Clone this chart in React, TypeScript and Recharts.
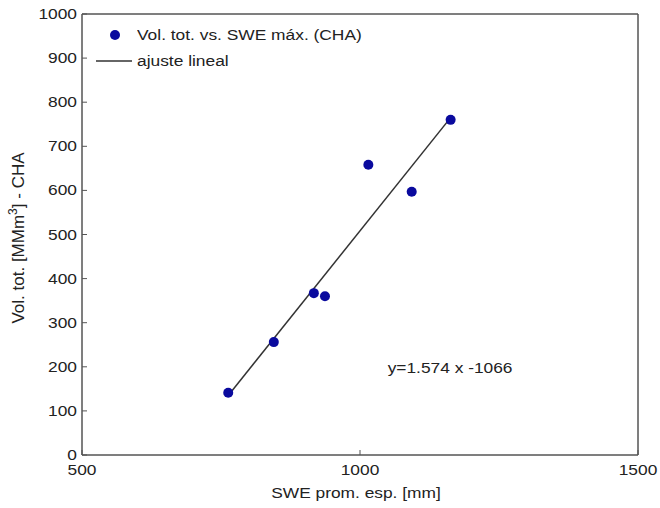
import React from "react";
import {
  ReferenceArea,
  ReferenceDot,
  Scatter,
  ScatterChart,
  XAxis,
  YAxis,
} from "recharts";

// SWE prom. esp. [mm] vs Vol. tot. [MMm3] - CHA
const sweProm = [763, 845, 917, 937, 1015, 1093, 1163];
const volTot = [141, 256, 367, 360, 658, 597, 760];

// linear fit end points
const fitX = [763, 1163];
const fitY = [135, 765];

const xTicks = [500, 1000, 1500];
const yTicks = [0, 100, 200, 300, 400, 500, 600, 700, 800, 900, 1000];

const FONT = "'Liberation Sans', Arial, Helvetica, sans-serif";
const AXIS = "#555";
const DOT = "#0a0a9e";
const TXT = "#222";
const SX = 1.24; // the original picture is stretched sideways

const points = sweProm.map((x, i) => ({ x, y: volTot[i] }));
const fit = fitX.map((x, i) => ({ x, y: fitY[i] }));

// text stretched horizontally like the source image
const Txt = ({ x, y, anchor = "start", children }: any) => (
  <text
    transform={`translate(${x},${y}) scale(${SX},1)`}
    textAnchor={anchor}
    fontSize={14}
    fill={TXT}
    fontFamily={FONT}
  >
    {children}
  </text>
);

const LeftTick = (props: any) => {
  const { x, y, payload } = props;
  return (
    <g>
      <line x1={x} x2={x + 5} y1={y} y2={y} stroke={AXIS} />
      <Txt x={x - 5} y={y + 5} anchor="end">
        {payload.value}
      </Txt>
    </g>
  );
};

const RightTick = (props: any) => {
  const { x, y } = props;
  return <line x1={x} x2={x - 5} y1={y} y2={y} stroke={AXIS} />;
};

const BottomTick = (props: any) => {
  const { x, y, payload } = props;
  return (
    <g>
      <line x1={x} x2={x} y1={y} y2={y - 5} stroke={AXIS} />
      <Txt x={x} y={y + 20} anchor="middle">
        {payload.value}
      </Txt>
    </g>
  );
};

const TopTick = (props: any) => {
  const { x, y } = props;
  return <line x1={x} x2={x} y1={y} y2={y + 5} stroke={AXIS} />;
};

const XLabel = (props: any) => {
  const { viewBox } = props;
  return (
    <Txt x={viewBox.x + viewBox.width / 2 - 4} y={498} anchor="middle">
      SWE prom. esp. [mm]
    </Txt>
  );
};

const YLabel = () => (
  <text
    transform="translate(24,238) rotate(-90)"
    textAnchor="middle"
    fontSize={17}
    fill={TXT}
    fontFamily={FONT}
  >
    Vol. tot. [MMm<tspan dy={-7} fontSize={12}>3</tspan>
    <tspan dy={7}>] - CHA</tspan>
  </text>
);

const FitLabel = (props: any) => {
  const { viewBox } = props;
  return (
    <Txt x={viewBox.x} y={viewBox.y + 5} anchor="middle">
      y=1.574 x -1066
    </Txt>
  );
};

const legendText: React.CSSProperties = {
  display: "inline-block",
  transform: `scaleX(${SX})`,
  transformOrigin: "left center",
  whiteSpace: "nowrap",
};

const LegendBox = () => (
  <div
    style={{
      position: "absolute",
      left: 96,
      top: 22,
      fontFamily: FONT,
      fontSize: 14,
      color: TXT,
      lineHeight: "26px",
    }}
  >
    <div style={{ display: "flex", alignItems: "center" }}>
      <svg width={41} height={26}>
        <circle cx={19} cy={13} r={5} fill={DOT} />
      </svg>
      <span style={legendText}>Vol. tot. vs. SWE máx. (CHA)</span>
    </div>
    <div style={{ display: "flex", alignItems: "center" }}>
      <svg width={41} height={26}>
        <line x1={0} x2={36} y1={13} y2={13} stroke="#333" strokeWidth={1.5} />
      </svg>
      <span style={legendText}>ajuste lineal</span>
    </div>
  </div>
);

export default function App() {
  return (
    <div style={{ position: "absolute", left: 0, top: 0, width: 660, height: 508, background: "#fff" }}>
      <ScatterChart width={660} height={508} margin={{ top: 13, right: 21, bottom: 0, left: 0 }}>
        <XAxis
          xAxisId="b"
          dataKey="x"
          type="number"
          domain={[500, 1500]}
          ticks={xTicks}
          height={53}
          stroke={AXIS}
          tickLine={false}
          tickSize={0}
          tickMargin={0}
          tick={<BottomTick />}
          label={<XLabel />}
        />
        <XAxis
          xAxisId="t"
          orientation="top"
          dataKey="x"
          type="number"
          domain={[500, 1500]}
          ticks={xTicks}
          height={1}
          stroke={AXIS}
          tickLine={false}
          tickSize={0}
          tickMargin={0}
          tick={<TopTick />}
        />
        <YAxis
          yAxisId="l"
          dataKey="y"
          type="number"
          domain={[0, 1000]}
          ticks={yTicks}
          width={82}
          stroke={AXIS}
          tickLine={false}
          tickSize={0}
          tickMargin={0}
          tick={<LeftTick />}
          label={<YLabel />}
        />
        <YAxis
          yAxisId="r"
          orientation="right"
          dataKey="y"
          type="number"
          domain={[0, 1000]}
          ticks={yTicks}
          width={1}
          stroke={AXIS}
          tickLine={false}
          tickSize={0}
          tickMargin={0}
          tick={<RightTick />}
        />
        <ReferenceArea
          xAxisId="b"
          yAxisId="l"
          x1={500}
          x2={1500}
          y1={0}
          y2={1000}
          fill="none"
          stroke={AXIS}
          strokeOpacity={1}
          ifOverflow="extendDomain"
        />
        <Scatter
          xAxisId="b"
          yAxisId="l"
          name="ajuste lineal"
          data={fit}
          line={{ stroke: "#333", strokeWidth: 1.5 }}
          shape={() => null}
          isAnimationActive={false}
        />
        <Scatter
          xAxisId="b"
          yAxisId="l"
          name="Vol. tot. vs. SWE máx. (CHA)"
          data={points}
          fill={DOT}
          shape={(p: any) => <circle cx={p.cx} cy={p.cy} r={5} fill={DOT} />}
          isAnimationActive={false}
        />
        <ReferenceDot
          xAxisId="b"
          yAxisId="l"
          x={1162}
          y={197}
          r={0}
          stroke="none"
          label={<FitLabel />}
        />
      </ScatterChart>
      <LegendBox />
    </div>
  );
}
